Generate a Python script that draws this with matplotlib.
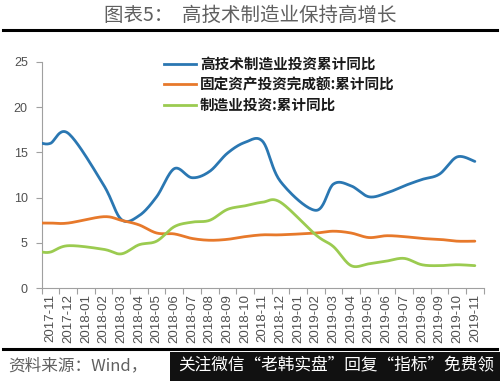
import numpy as np
import matplotlib
matplotlib.use("Agg")
import matplotlib.pyplot as plt
from matplotlib.lines import Line2D

plt.rcParams['font.family'] = ['Noto Sans CJK SC', 'DejaVu Sans']

months = ["2017-11", "2017-12", "2018-01", "2018-02", "2018-03", "2018-04", "2018-05",
          "2018-06", "2018-07", "2018-08", "2018-09", "2018-10", "2018-11", "2018-12",
          "2019-01", "2019-02", "2019-03", "2019-04", "2019-05", "2019-06", "2019-07",
          "2019-08", "2019-09", "2019-10", "2019-11"]
hightech = [16.0, 17.1, None, 11.4, 7.6, 8.0, 10.1, 13.2, 12.2, 12.9, 14.9, 16.1, 16.2,
            11.8, None, 8.6, 11.5, 11.3, 10.1, 10.5, 11.3, 12.0, 12.6, 14.5, 14.0]
fixed_asset = [7.2, 7.2, None, 7.9, 7.5, 7.0, 6.1, 6.0, 5.5, 5.3, 5.4, 5.7, 5.9,
               5.9, None, 6.1, 6.3, 6.1, 5.6, 5.8, 5.7, 5.5, 5.4, 5.2, 5.2]
manufacturing = [4.0, 4.7, None, 4.3, 3.8, 4.8, 5.2, 6.8, 7.3, 7.5, 8.7, 9.1, 9.5,
                 9.5, None, 5.9, 4.6, 2.5, 2.7, 3.0, 3.3, 2.6, 2.5, 2.6, 2.5]
labels = ["高技术制造业投资累计同比", "固定资产投资完成额:累计同比", "制造业投资:累计同比"]
colors = ["#2A77B2", "#E7792B", "#9BCB50"]


def smooth(xs, ys, x_start, n=24):
    pts = [(x, y) for x, y in zip(xs, ys) if y is not None]
    pts = [(x_start, pts[0][1])] + pts
    P = np.array(pts, dtype=float)
    out = []
    for i in range(len(P) - 1):
        p0 = P[i - 1] if i > 0 else P[i]
        p1, p2 = P[i], P[i + 1]
        p3 = P[i + 2] if i + 2 < len(P) else P[i + 1]
        c1 = p1 + (p2 - p0) / 6.0
        c2 = p2 - (p3 - p1) / 6.0
        t = np.linspace(0, 1, n)[:, None]
        seg = ((1 - t) ** 3) * p1 + 3 * ((1 - t) ** 2) * t * c1 + 3 * (1 - t) * t ** 2 * c2 + t ** 3 * p2
        out.append(seg if i == 0 else seg[1:])
    out = np.vstack(out)
    return out[:, 0], out[:, 1]


W, H = 500, 381
fig = plt.figure(figsize=(W / 100, H / 100), dpi=100)
fig.patch.set_facecolor("white")

ax_l, ax_r, ax_b, ax_t = 41.7, 483.7, 288.3, 61.7
ax = fig.add_axes([ax_l / W, (H - ax_b) / H, (ax_r - ax_l) / W, (ax_b - ax_t) / H])

x = np.arange(len(months))
xmin, xmax = -0.5, len(months) - 0.5
for series, c in zip([hightech, fixed_asset, manufacturing], colors):
    sx, sy = smooth(x, series, xmin)
    ax.plot(sx, sy, color=c, lw=2.0, solid_capstyle='round', zorder=3)

ax.set_xlim(xmin, xmax)
ax.set_ylim(0, 25)
ax.set_yticks([0, 5, 10, 15, 20, 25])
ax.set_yticklabels(["0", "5", "10", "15", "20", "25"], fontsize=9, color="#505050",
                   family=["Liberation Sans"])
ax.set_xticks(x)
ax.set_xticklabels(months, rotation=90, fontsize=9.5, color="#505050",
                   family=["Liberation Sans"])
ax.set_xticks(np.arange(len(months) + 1) - 0.5, minor=True)
ax.tick_params(axis='x', which='major', length=0, pad=4)
ax.tick_params(axis='x', which='minor', length=4, color="#A0A0A0", width=0.8, direction='out')
ax.tick_params(axis='y', length=4, color="#A0A0A0", width=0.8, direction='out', pad=6)
for s in ["top", "right"]:
    ax.spines[s].set_visible(False)
for s in ["left", "bottom"]:
    ax.spines[s].set_color("#A0A0A0")
    ax.spines[s].set_linewidth(0.8)

handles = [Line2D([0], [0], color=c, lw=2.0) for c in colors]
leg = fig.legend(handles, labels, loc='upper left', bbox_to_anchor=(151 / W, 1 - 43 / H),
                 frameon=False, handlelength=2.2, handletextpad=0.25, labelspacing=0.3,
                 prop={'family': ['Noto Sans CJK SC'], 'size': 10.5, 'weight': 'bold'})
for t in leg.get_texts():
    t.set_color("#1a1a1a")

# title
fig.text(0.5, 1 - 15 / H, "图表5：  高技术制造业保持高增长", ha='center', va='center',
         fontsize=14, color="#606060")
fig.add_artist(Line2D([3 / W, 497 / W], [1 - 30 / H, 1 - 30 / H], color="black", lw=2.2))
fig.add_artist(Line2D([3 / W, 497 / W], [1 - 349 / H, 1 - 349 / H], color="black", lw=2.2))

# footer
fig.text(8 / W, 1 - 366 / H, "资料来源：Wind，", ha='left', va='center', fontsize=12,
         color="#606060", style='italic')
fig.patches.append(plt.Rectangle((170 / W, 0), 330 / W, (H - 352) / H, transform=fig.transFigure,
                                 facecolor="#111111", edgecolor='none'))
fig.text(178 / W, 1 - 366 / H, "关注微信“老韩实盘”回复“指标”免费领", ha='left', va='center',
         fontsize=12, color="white")

fig.savefig("out.png", dpi=100, facecolor="white")
